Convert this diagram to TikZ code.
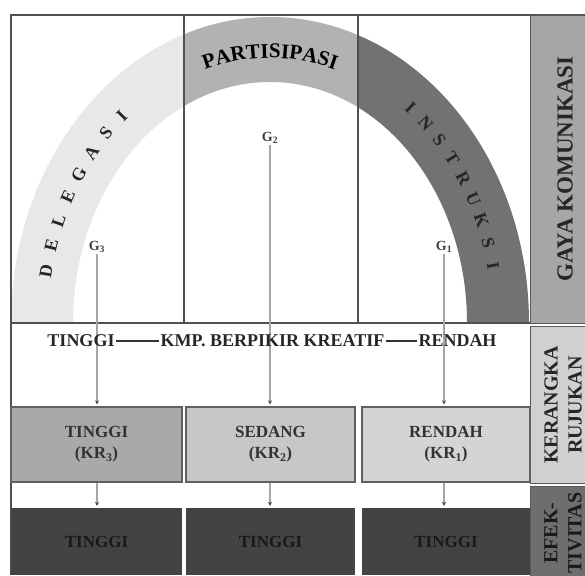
\documentclass[tikz,border=0pt]{standalone}
\usepackage{fontspec}
\setmainfont{Liberation Serif}
\usetikzlibrary{positioning,decorations.text,arrows.meta}

\definecolor{framegray}{HTML}{505050}
\definecolor{delegasifill}{HTML}{E8E8E8}
\definecolor{partisifill}{HTML}{B2B2B2}
\definecolor{instrukfill}{HTML}{727272}
\definecolor{gayafill}{HTML}{A6A6A6}
\definecolor{kerangkafill}{HTML}{D0D0D0}
\definecolor{efekfill}{HTML}{6E6E6E}
\definecolor{krthree}{HTML}{A9A9A9}
\definecolor{krtwo}{HTML}{C7C7C7}
\definecolor{krone}{HTML}{D4D4D4}
\definecolor{effdark}{HTML}{434343}

\newcommand\ringpath{(11,323) arc[start angle=180, end angle=360, x radius=259, y radius=306] -- (467,323) arc[start angle=360, end angle=180, x radius=197, y radius=241] -- cycle}
\newcommand\partfont{\fontsize{21}{23}\selectfont\bfseries}

\tikzset{
  frame/.style={draw=framegray, line width=1.6pt},
  sidepanel/.style={draw=gray!70!black, line width=1pt, minimum width=55pt, inner sep=0pt, anchor=north west},
  sidetext/.style={rotate=90, align=center, inner sep=0pt, font=\bfseries\fontsize{20}{24}\selectfont, text=black!85},
  krbox/.style={draw=gray!75!black, line width=1.2pt, minimum height=75pt, inner sep=0pt, align=center, font=\bfseries\fontsize{17}{21}\selectfont, text=black!80},
  effbox/.style={fill=effdark, minimum height=67pt, inner sep=0pt, font=\bfseries\fontsize{17}{20}\selectfont, text=black!90},
  glabel/.style={font=\bfseries\fontsize{14}{14}\selectfont, text=black!75, inner sep=1.5pt},
  midtext/.style={font=\bfseries\fontsize{18}{18}\selectfont, text=black!85, inner sep=1.5pt},
  arcletter/.style={font=\bfseries\fontsize{18}{18}\selectfont, text=black!85, inner sep=0pt},
  flow/.style={draw=gray!70, line width=2.2pt, -{Stealth[length=4pt, width=4pt, color=black!75]}, shorten >=2pt},
}

\begin{document}
\begin{tikzpicture}[x=1pt, y=-1pt]
    \useasboundingbox (0,0) rectangle (585,575);

    % the three bands of the arch
    \begin{scope}
        \clip (11,15) rectangle (184,323);
        \fill[delegasifill] \ringpath;
    \end{scope}
    \begin{scope}
        \clip (184,15) rectangle (358,323);
        \fill[partisifill] \ringpath;
    \end{scope}
    \begin{scope}
        \clip (358,15) rectangle (530,323);
        \fill[instrukfill] \ringpath;
    \end{scope}

    \draw[frame] (11,575) -- (11,15) -- (585,15);
    \draw[frame] (11,323) -- (530,323);
    \draw[frame] (184,15) -- (184,323);
    \draw[frame] (358,15) -- (358,323);

    % side panels
    \node[sidepanel, fill=gayafill, minimum height=308pt] (gaya) at (530,15) {};
    \node[sidepanel, fill=kerangkafill, minimum height=157pt] (kerangka) at (530,326) {};
    \node[sidepanel, fill=efekfill, minimum height=90pt] (efek) at (530,486) {};
    \node[sidetext, font=\bfseries\fontsize{23}{25}\selectfont] (gayatext) at (565,169) {GAYA KOMUNIKASI};
    \node[sidetext] (kerangkatext) at (563,405) {KERANGKA\\RUJUKAN};
    \node[sidetext, text=black!90] (efektext) at (563,533) {EFEK-\\TIVITAS};

    % kerangka rujukan and efektivitas boxes
    \node[krbox, fill=krthree, minimum width=171pt] (kr3) at (96.5,444.5) {TINGGI\\(KR\textsubscript{3})};
    \node[krbox, fill=krtwo, minimum width=169pt] (kr2) at (270.5,444.5) {SEDANG\\(KR\textsubscript{2})};
    \node[krbox, fill=krone, minimum width=168pt] (kr1) at (446,444.5) {RENDAH\\(KR\textsubscript{1})};
    \node[effbox, minimum width=171pt] (ef3) at (96.5,541.5) {TINGGI};
    \node[effbox, minimum width=169pt] (ef2) at (270.5,541.5) {TINGGI};
    \node[effbox, minimum width=168pt] (ef1) at (446,541.5) {TINGGI};

    \node[glabel] (g3) at (97,247) {G\textsubscript{3}};
    \node[glabel] (g2) at (270,138) {G\textsubscript{2}};
    \node[glabel] (g1) at (444,247) {G\textsubscript{1}};

    \draw[flow] (g3.south) -- (g3.south |- kr3.north);
    \draw[flow] (g2.south) -- (g2.south |- kr2.north);
    \draw[flow] (g1.south) -- (g1.south |- kr1.north);
    \draw[flow] (kr3.south -| g3) -- (ef3.north -| g3);
    \draw[flow] (kr2.south -| g2) -- (ef2.north -| g2);
    \draw[flow] (kr1.south -| g1) -- (ef1.north -| g1);

    % scale of creative thinking
    \node[midtext] (hi) at (81,341) {TINGGI};
    \node[midtext] (kmp) at (272.5,341) {KMP. BERPIKIR KREATIF};
    \node[midtext] (lo) at (457.5,341) {RENDAH};
    \draw[black!80, line width=1.2pt] (hi) -- (kmp);
    \draw[black!80, line width=1.2pt] (kmp) -- (lo);

    % labels on the arch
    \foreach \ch [count=\i] in {D,E,L,E,G,A,S,I} {
        \pgfmathsetmacro\ang{191+(\i-1)*5.5}
        \pgfmathsetmacro\rot{atan2(-273*cos(\ang),-228*sin(\ang))}
        \node[arcletter, rotate=\rot] at ([shift={(270,323)}]\ang:228 and 273) {\ch};
    }
    \foreach \ch [count=\i] in {I,N,S,T,R,U,K,S,I} {
        \pgfmathsetmacro\ang{308+(\i-1)*5}
        \pgfmathsetmacro\rot{atan2(-273*cos(\ang),-228*sin(\ang))}
        \node[arcletter, rotate=\rot] at ([shift={(270,323)}]\ang:228 and 273) {\ch};
    }
    \path[decorate, decoration={text along path, text={|\partfont|PARTISIPASI}, text align=center}]
        ([shift={(270,323)}]235:221 and 265) arc[start angle=235, end angle=305, x radius=221, y radius=265];
\end{tikzpicture}
\end{document}
